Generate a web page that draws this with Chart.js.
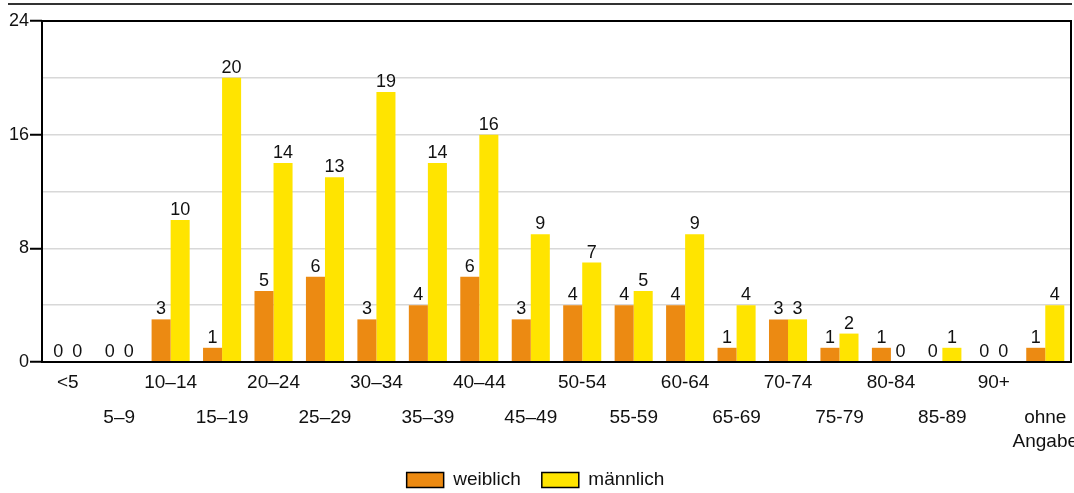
<!DOCTYPE html>
<html>
<head>
<meta charset="utf-8">
<script src="https://cdn.jsdelivr.net/npm/chart.js@4"></script>
<style>
  html, body { margin: 0; padding: 0; background: #fff; overflow: hidden; }
  #wrap { position: relative; width: 1074px; height: 493px; }
  #topline { position: absolute; left: 8px; right: 2px; top: 3px; border-top: 2px solid #333; }
</style>
</head>
<body>
<div id="wrap">
  <div id="topline"></div>
  <canvas id="ageChart" width="1074" height="493"></canvas>
</div>
<script>
// Altersgruppen (Kategorien)
const categories = ["<5", "5–9", "10–14", "15–19", "20–24", "25–29", "30–34", "35–39", "40–44", "45–49",
  "50-54", "55-59", "60-64", "65-69", "70-74", "75-79", "80-84", "85-89", "90+", "ohne Angabe"];
// Werte
const weiblich = [0, 0, 3, 1, 5, 6, 3, 4, 6, 3, 4, 4, 4, 1, 3, 1, 1, 0, 0, 1];
const maennlich = [0, 0, 10, 20, 14, 13, 19, 14, 16, 9, 7, 5, 9, 4, 3, 2, 0, 1, 0, 4];
// Beschriftete Y-Ticks
const yTickLabels = [0, 8, 16, 24];

const FONT = "'Liberation Sans', Arial, sans-serif";

// Werte über den Balken
const valueLabels = {
  id: "valueLabels",
  afterDatasetsDraw(chart) {
    const ctx = chart.ctx;
    ctx.save();
    ctx.font = "18px " + FONT;
    ctx.fillStyle = "#111";
    ctx.textAlign = "center";
    ctx.textBaseline = "bottom";
    chart.data.datasets.forEach((ds, i) => {
      chart.getDatasetMeta(i).data.forEach((bar, j) => {
        ctx.fillText(ds.data[j], bar.x, bar.y - 1);
      });
    });
    ctx.restore();
  }
};

// Rahmen um die Zeichenfläche
const frame = {
  id: "frame",
  afterDraw(chart) {
    const a = chart.chartArea;
    const ctx = chart.ctx;
    ctx.save();
    ctx.strokeStyle = "#000";
    ctx.lineWidth = 2;
    ctx.strokeRect(a.left, a.top, a.right - a.left, a.bottom - a.top);
    ctx.restore();
  }
};

new Chart(document.getElementById("ageChart"), {
  type: "bar",
  data: {
    labels: categories,
    datasets: [
      { label: "weiblich", data: weiblich, backgroundColor: "#EC8A12" },
      { label: "männlich", data: maennlich, backgroundColor: "#FFE400" }
    ]
  },
  options: {
    responsive: false,
    animation: false,
    layout: { padding: { top: 21, right: 3, left: 0, bottom: -6.5 } },
    datasets: { bar: { categoryPercentage: 0.74, barPercentage: 1.0 } },
    plugins: {
      tooltip: { enabled: false },
      legend: {
        position: "bottom",
        labels: {
          color: "#111",
          font: { family: FONT, size: 19 },
          boxWidth: 37,
          boxHeight: 15,
          padding: 10.5,
          generateLabels(chart) {
            const items = Chart.defaults.plugins.legend.labels.generateLabels(chart);
            items.forEach((it, i) => {
              it.strokeStyle = "#000";
              it.lineWidth = 1.5;
              if (i < items.length - 1) it.text += "  "; // mehr Abstand zwischen den Einträgen
            });
            return items;
          }
        }
      }
    },
    scales: {
      x: {
        grid: { display: false },
        border: { display: false },
        ticks: {
          autoSkip: false,
          maxRotation: 0,
          color: "#111",
          padding: 7,
          font: { family: FONT, size: 19, lineHeight: "11.7px" },
          callback(v, i) {
            const lab = categories[i];
            if (i % 2 === 0) return [lab];
            const parts = lab.split(" ");
            if (parts.length > 1) return ["", "", "", parts[0], "", parts[1]];
            return ["", "", "", lab];
          }
        },
        afterFit(scale) {
          scale.height = 98;
          scale.paddingLeft = 0;
          scale.paddingRight = 0;
        }
      },
      y: {
        min: 0,
        max: 24,
        border: { display: false },
        grid: {
          color: ctx => (ctx.tick && ctx.tick.value % 24 === 0) ? "rgba(0,0,0,0)" : "#d8d8d8",
          lineWidth: 1.5,
          tickLength: 12,
          tickColor: ctx => yTickLabels.includes(ctx.tick.value) ? "#000" : "rgba(0,0,0,0)",
          tickWidth: 2
        },
        ticks: {
          stepSize: 4,
          padding: 1,
          color: "#111",
          font: { family: FONT, size: 18 },
          callback: v => yTickLabels.includes(v) ? String(v) : ""
        },
        afterFit(scale) { scale.width = 42; }
      }
    }
  },
  plugins: [valueLabels, frame]
});
</script>
</body>
</html>
